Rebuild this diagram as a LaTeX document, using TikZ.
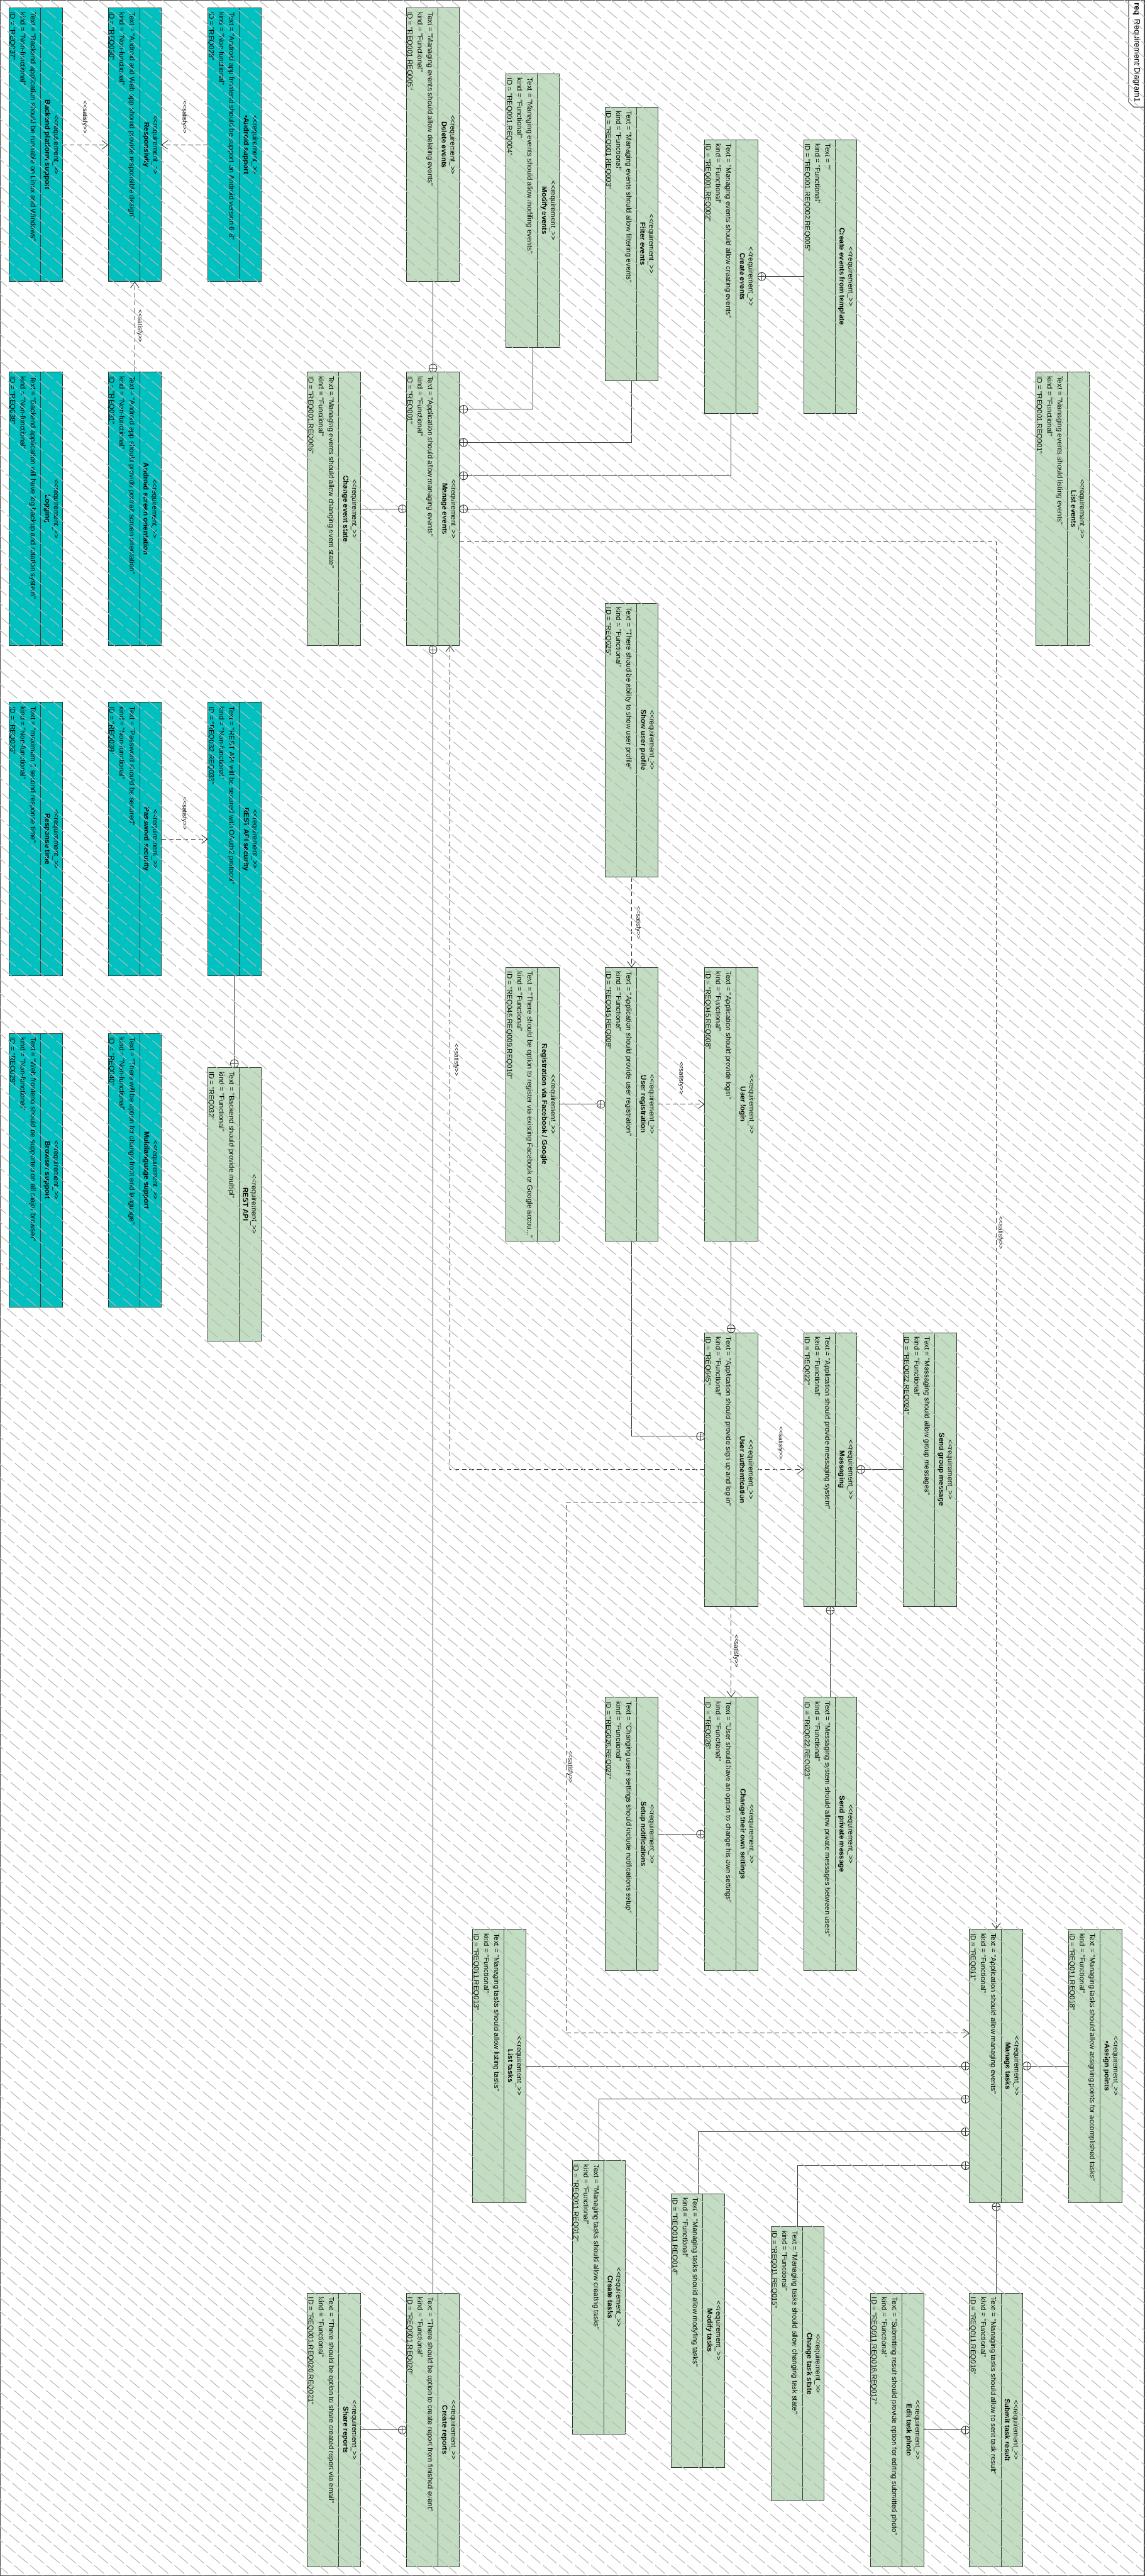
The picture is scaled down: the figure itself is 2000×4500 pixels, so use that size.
\documentclass[tikz,border=0pt]{standalone}
\usepackage{fontspec}
\setmainfont{Liberation Sans}[Ligatures=TeXOff]
\usetikzlibrary{arrows.meta,calc}

\definecolor{reqgreen}{RGB}{194,221,194}
\definecolor{reqteal}{RGB}{0,192,192}
\definecolor{reqedge}{RGB}{45,55,45}

\tikzset{
  freq/.style={draw=reqedge, fill=reqgreen, line width=1pt, minimum width=478pt, minimum height=93pt,
    inner sep=0pt, outer sep=0pt, anchor=south west},
  nfreq/.style={freq, fill=reqteal},
  reqsep/.style={draw=reqedge, line width=1pt},
  reqhead/.style={align=center, inner sep=0pt, font=\fontsize{12.6}{15.3}\selectfont},
  reqbody/.style={align=left, inner sep=0pt, anchor=north west, font=\fontsize{12.6}{17.8}\selectfont},
  conn/.style={draw=reqedge, line width=1pt},
  sat/.style={draw=reqedge, line width=1pt, dash pattern=on 8pt off 5pt, -{Straight Barb[length=10pt,width=15pt]}},
  satlbl/.style={inner sep=0pt, font=\fontsize{11}{13}\selectfont},
  contain/.style={circle, draw=reqedge, line width=1pt, minimum size=14pt, inner sep=0pt, outer sep=0pt,
    path picture={\draw[line width=1pt] (path picture bounding box.north) -- (path picture bounding box.south)
      (path picture bounding box.west) -- (path picture bounding box.east);}},
  hatch/.style={draw=black!28, line width=1.2pt, dash pattern=on 22pt off 6pt},
}

% requirement box: style, kind, name, u, v, title, text, id
\newcommand{\reqbox}[8]{%
  \node[#1] (#3) at (#4,#5) {};
  \draw[reqsep] ({#4},{#5+55}) -- ({#4+478},{#5+55});
  \node[reqhead] (#3-h) at ({#4+239},{#5+74}) {<<requirement\_>>\\\textbf{#6}};
  \node[reqbody] (#3-b) at ({#4+7},{#5+47}) {Text = "#7"\\kind = "#2"\\ID = "#8"};
}
\newcommand{\freq}[6]{\reqbox{freq}{Functional}{#1}{#2}{#3}{#4}{#5}{#6}}
\newcommand{\nfreq}[6]{\reqbox{nfreq}{Non-functional}{#1}{#2}{#3}{#4}{#5}{#6}}

\begin{document}
\begin{tikzpicture}[x=1pt, y=1pt]
  \useasboundingbox (0,0) rectangle (2000,-4500);
  \begin{scope}[rotate=-90, transform shape]
    % Frame
    \draw[line width=2.5pt, draw=black!70] (0,0) rectangle (4500,2000);
    \draw[line width=1.2pt, draw=black!70] (0,1972) -- (178,1972) -- (187,1981) -- (187,2000);
    \node[anchor=west, inner sep=0pt, font=\fontsize{14}{16}\selectfont] (title) at (5,1986)
      {\textbf{req}\hspace{7pt}Requirement Diagram1};

    % Non-functional requirements
    \nfreq{bpsup}{14}{16}{Backend platform support}{Backend application should be runnable on Linux and Windows}{REQ037}
    \nfreq{respons}{14}{189}{Responsivity}{Android and Web app should provide responsible design}{REQ030}
    \nfreq{andsup}{14}{363}{•Android support}{Android app frontend should be support on Android version 6-8}{REQ028}
    \nfreq{logging}{650}{16}{Logging}{Backend application will have log backup and rotation system}{REQ038}
    \nfreq{andscr}{650}{189}{Android screen orientation}{Android app should provide portrait screen orientation}{REQ031}
    \nfreq{resptime}{1227}{16}{Response time}{maximum 2 second response time}{REQ036}
    \nfreq{passsec}{1227}{189}{Password security}{Password should be secured}{REQ039}
    \nfreq{apisec}{1227}{363}{REST API security}{REST API will be secured with OAuth2 protocol}{REQ032.REQ033}
    \nfreq{browser}{1805}{16}{Browser support}{Web frontend should be supported on all major browser}{REQ029}
    \nfreq{multilang}{1805}{189}{Multilanguage support}{There will be option for change front end language}{REQ040}

    % Functional requirements
    \freq{restapi}{1865}{363}{REST API}{Backend should provide multipl}{REQ032}
    \freq{chgevst}{650}{537}{Change event state}{Managing events should allow changing event state}{REQ001.REQ006}
    \freq{delev}{14}{710}{Delete events}{Managing events should allow deleting events}{REQ001.REQ005}
    \freq{modev}{129}{884}{Modify events}{Managing events should allow modifing events}{REQ001.REQ004}
    \freq{filtev}{187}{1057}{Filter events}{Managing events should allow filtering events}{REQ001.REQ003}
    \freq{creaev}{244}{1231}{Create events}{Managing events should allow creating events}{REQ001.REQ002}
    \freq{tmplev}{244}{1404}{Create events from template}{}{REQ001.REQ002.REQ005}
    \freq{manev}{650}{710}{Manage events}{Application should allow managing events}{REQ001}
    \freq{listev}{650}{1810}{List events}{Managing events should listing events}{REQ001.REQ001}
    \freq{showprof}{1054}{1057}{Show user profile}{There shoud be ability to show user profile}{REQ025}
    \freq{regfb}{1690}{884}{Registration via Facebook / Google}{There should be option to register via existing Facebook or Google accou...}{REQ045.REQ009.REQ010}
    \freq{userreg}{1690}{1057}{User registration}{Application should provide user registration}{REQ045.REQ009}
    \freq{userlog}{1690}{1231}{User login}{Application should provide login}{REQ045.REQ008}
    \freq{userauth}{2328}{1231}{User authentication}{Application should provide sign up and log in}{REQ045}
    \freq{messg}{2328}{1404}{Messaging}{Application should provide messaging system}{REQ022}
    \freq{grpmsg}{2328}{1578}{Send group message}{Messaging should allow group messages}{REQ022.REQ024}
    \freq{setnot}{2965}{1057}{Setup notifications}{Changing users settings should include notifications setup}{REQ026.REQ027}
    \freq{chgset}{2965}{1231}{Change their own settings}{User should have an option to change his own settings}{REQ026}
    \freq{privmsg}{2965}{1404}{Send private message}{Messaging system should allow private messages between users}{REQ022.REQ023}
    \freq{listtk}{3370}{826}{List tasks}{Managing tasks should allow listing tasks}{REQ011.REQ013}
    \freq{mantk}{3370}{1694}{Manage tasks}{Application should allow managing events}{REQ011}
    \freq{assign}{3370}{1867}{•Assign points}{Managing tasks should allow assigning points for accomplished tasks}{REQ011.REQ018}
    \freq{creatk}{3774}{1000}{Create tasks}{Managing tasks should allow creating tasks}{REQ011.REQ012}
    \freq{modtk}{3832}{1173}{Modify tasks}{Managing tasks should allow modyfing tasks}{REQ011.REQ014}
    \freq{chgtk}{3890}{1347}{Change task state}{Managing tasks should allow changing task state}{REQ011.REQ015}
    \freq{edphoto}{4006}{1521}{Edit task photo}{Submitting result should provide option for editing submitted photo}{REQ011.REQ016.REQ017}
    \freq{submit}{4006}{1694}{Submit task result}{Managing tasks should allow to sent task result}{REQ011.REQ016}
    \freq{crerep}{4006}{710}{Create reports}{There should be option to create report from finished event}{REQ001.REQ020}
    \freq{shrep}{4006}{537}{Share reports}{There should be option to share created report via email}{REQ001.REQ020.REQ021}

    % Containment
    \draw[conn] (delev.east) -- (manev.west) node[contain, anchor=east] {};
    \draw[conn] (modev.east) -- ++(108,0) coordinate (bmod) -- (bmod |- manev.north) node[contain, anchor=south] {};
    \draw[conn] (filtev.east) -- ++(108,0) coordinate (bfil) -- (bfil |- manev.north) node[contain, anchor=south] {};
    \draw[conn] (creaev.east) -- ++(109,0) coordinate (bcre) -- (bcre |- manev.north) node[contain, anchor=south] {};
    \draw[conn] (listev.south) -- (manev.north) node[contain, anchor=south] {};
    \draw[conn] (chgevst.north) -- (manev.south) node[contain, anchor=north] {};
    \draw[conn] (tmplev.south) -- (creaev.north) node[contain, anchor=south] {};
    \draw[conn] (crerep.west) -- (manev.east) node[contain, anchor=west] {};
    \draw[conn] (shrep.north) -- (crerep.south) node[contain, anchor=north] {};
    \draw[conn] (apisec.east) -- (restapi.west) node[contain, anchor=east] {};
    \draw[conn] (regfb.north) -- (userreg.south) node[contain, anchor=north] {};
    \draw[conn] (userlog.east) -- (userauth.west) node[contain, anchor=east] {};
    \draw[conn] (userreg.east) -- ++(341,0) coordinate (breg) -- (breg |- userauth.south) node[contain, anchor=north] {};
    \draw[conn] (grpmsg.south) -- (messg.north) node[contain, anchor=south] {};
    \draw[conn] (privmsg.west) -- (messg.east) node[contain, anchor=west] {};
    \draw[conn] (setnot.north) -- (chgset.south) node[contain, anchor=north] {};
    \draw[conn] (listtk.north) -- (mantk.south) node[contain, anchor=north] {};
    \draw[conn] (creatk.west) -- ++(-107,0) coordinate (bctk) -- (bctk |- mantk.south) node[contain, anchor=north] {};
    \draw[conn] (modtk.west) -- ++(-108,0) coordinate (bmtk) -- (bmtk |- mantk.south) node[contain, anchor=north] {};
    \draw[conn] (chgtk.west) -- ++(-107,0) coordinate (bstk) -- (bstk |- mantk.south) node[contain, anchor=north] {};
    \draw[conn] (assign.south) -- (mantk.north) node[contain, anchor=south] {};
    \draw[conn] (submit.west) -- (mantk.east) node[contain, anchor=west] {};
    \draw[conn] (edphoto.north) -- (submit.south) node[contain, anchor=north] {};

    % Satisfy
    \draw[sat] (bpsup.north) -- (respons.south);
    \draw[sat] (andsup.south) -- (respons.north);
    \draw[sat] (andscr.west) -- (respons.east);
    \draw[sat] (passsec.north) -- (apisec.south);
    \draw[sat] (showprof.east) -- (userreg.west);
    \draw[sat] (userreg.north) -- (userlog.south);
    \draw[sat] (userauth.north) -- (messg.south);
    \draw[sat] (userauth.east) -- (chgset.west);
    \draw[sat] (userauth.south) |- ($(manev.south east)!0.82!(manev.north east)$);
    \draw[sat] ($(userauth.south west)!0.62!(userauth.south east)$) -- ++(0,-242)
      -| ($(mantk.south west)!0.38!(mantk.south east)$);
    \draw[sat] ($(manev.north west)!0.62!(manev.north east)$) |- (mantk.west);

    % Labels
    \node[satlbl] (s1) at (205,148) {<<satisfy>>};
    \node[satlbl] (s2) at (205,322) {<<satisfy>>};
    \node[satlbl] (s3) at (570,244) {<<satisfy>>};
    \node[satlbl] (s4) at (1421,322) {<<satisfy>>};
    \node[satlbl] (s5) at (1612,1115) {<<satisfy>>};
    \node[satlbl] (s6) at (1883,1190) {<<satisfy>>};
    \node[satlbl] (s7) at (2521,1364) {<<satisfy>>};
    \node[satlbl] (s8) at (2884,1286) {<<satisfy>>};
    \node[satlbl] (s9) at (1852,797) {<<satisfy>>};
    \node[satlbl] (s10) at (3087,996) {<<satisfy>>};
    \node[satlbl] (s11) at (2154,1748) {<<satisfy>>};
  \end{scope}

  % Hatch
  \begin{scope}
    \clip (0,0) rectangle (2000,-4500);
    \foreach \hx in {-5400,-5372,...,2000}
      \draw[hatch] (\hx,0) -- ++(5400,-4531);
  \end{scope}
\end{tikzpicture}
\end{document}
